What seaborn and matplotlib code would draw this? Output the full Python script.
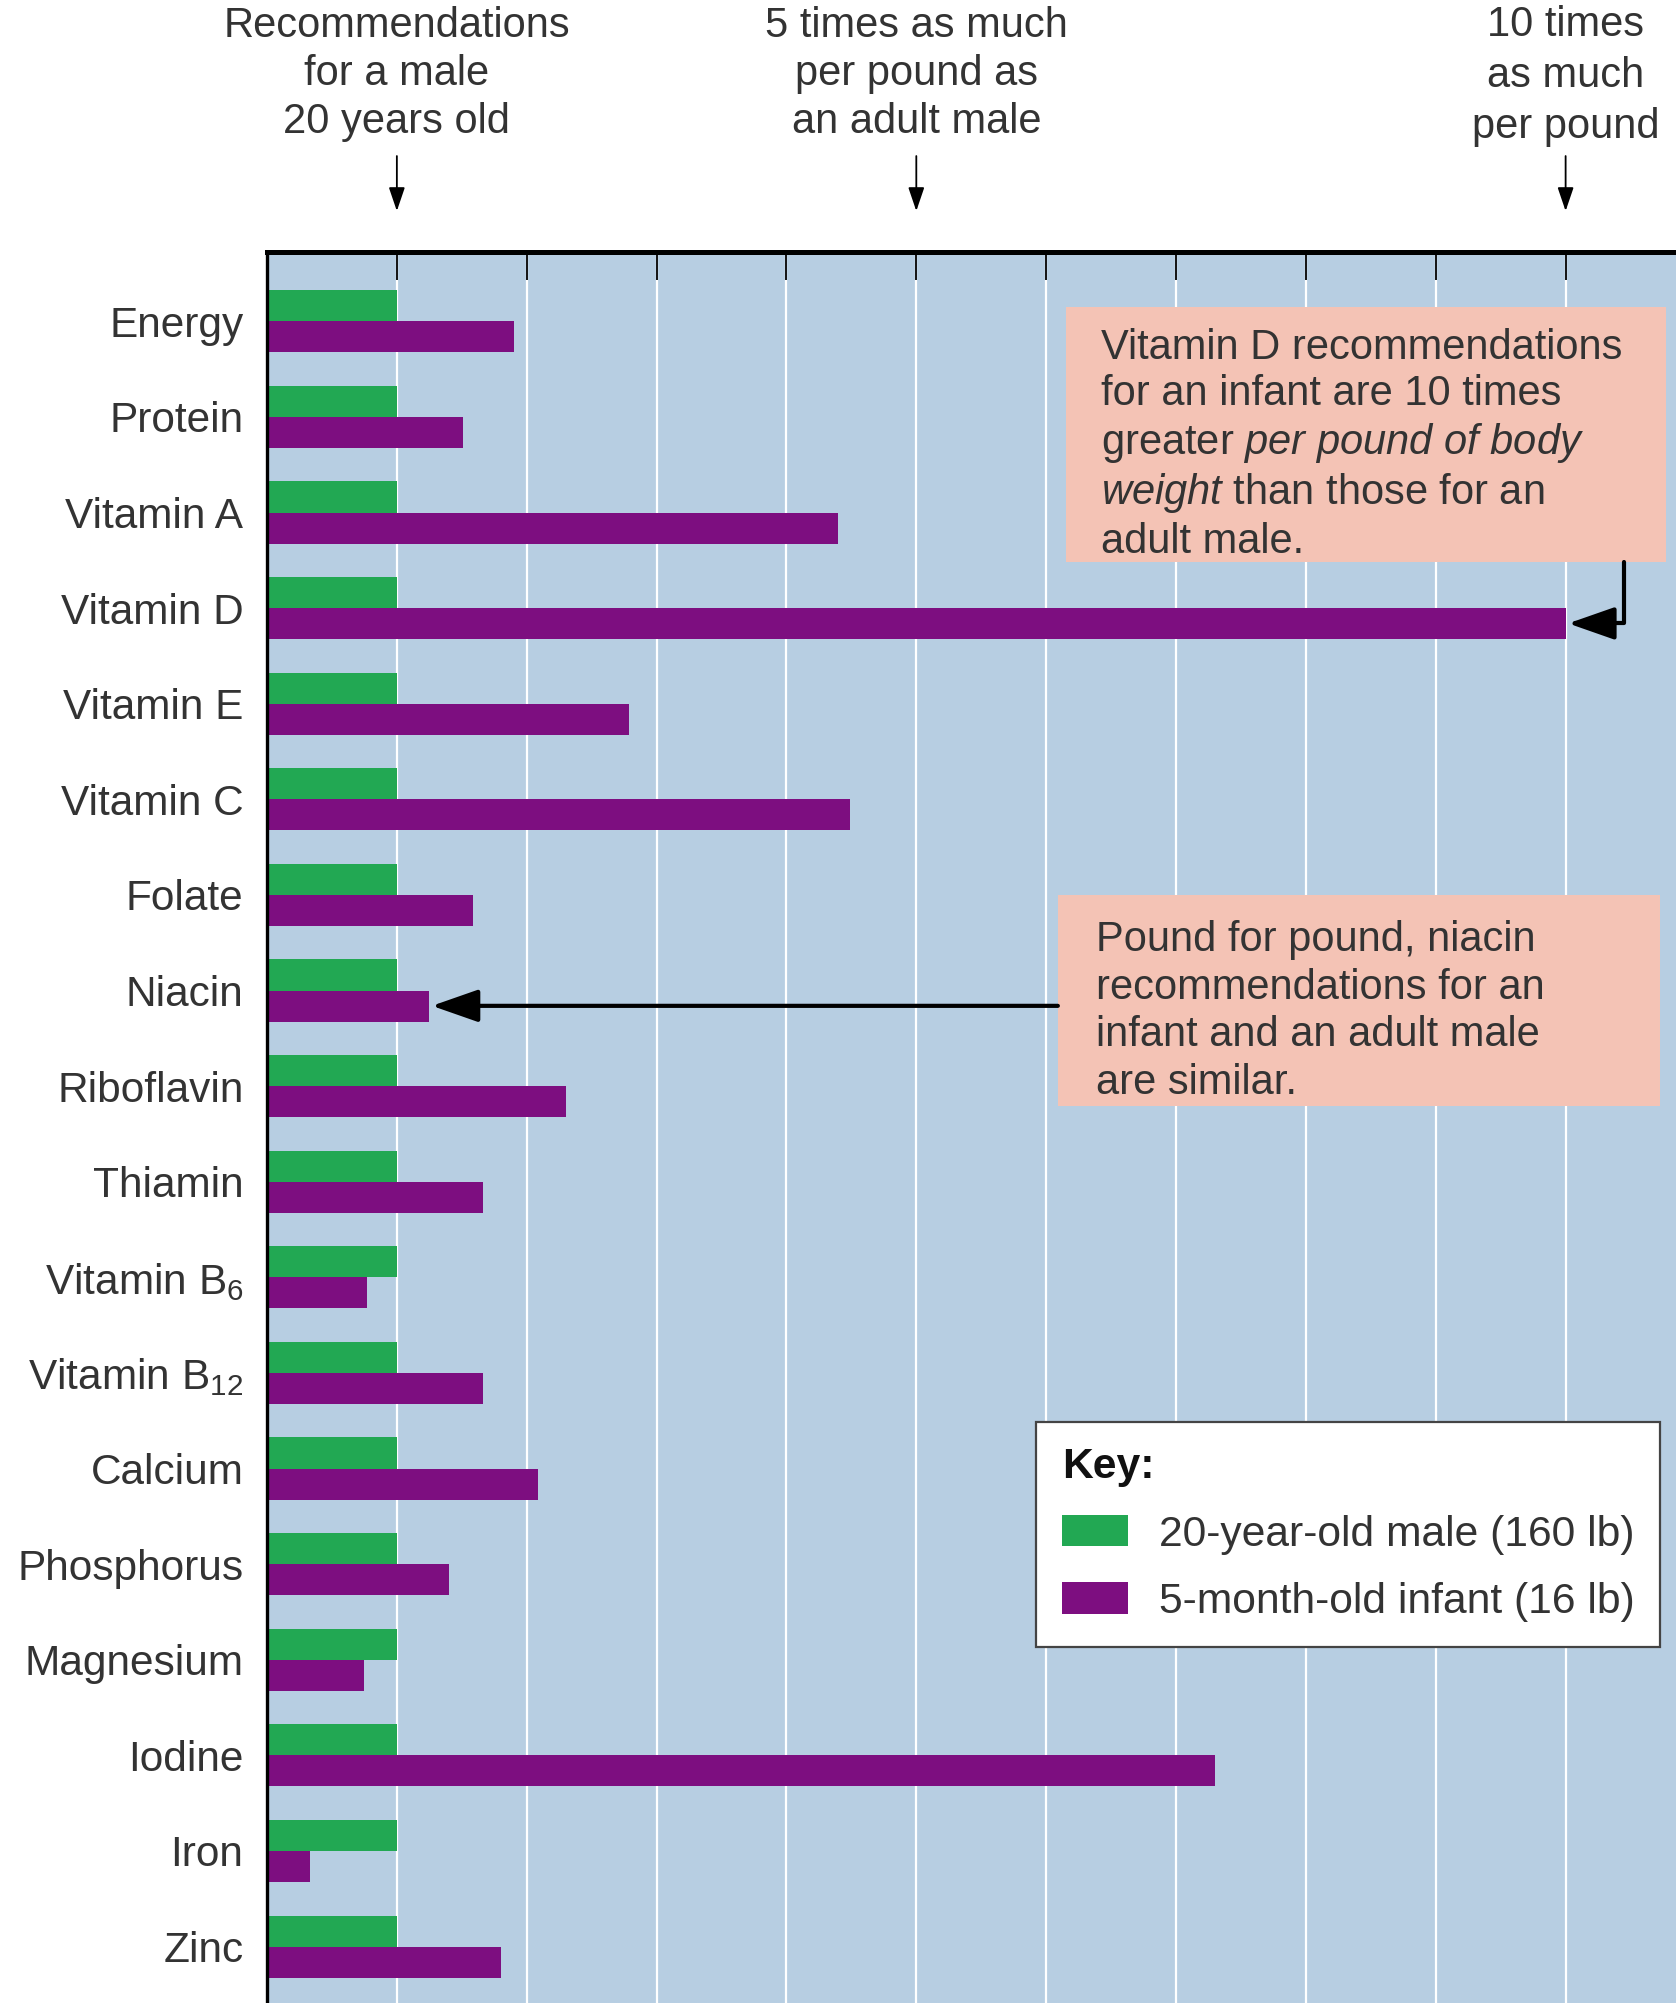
import matplotlib
matplotlib.use("Agg")
import matplotlib.pyplot as plt
from matplotlib.patches import Rectangle
import seaborn as sns
import pandas as pd

nutrients = ["Energy", "Protein", "Vitamin A", "Vitamin D", "Vitamin E", "Vitamin C",
             "Folate", "Niacin", "Riboflavin", "Thiamin", r"Vitamin $\mathrm{B}_{6}$",
             r"Vitamin $\mathrm{B}_{12}$", "Calcium", "Phosphorus", "Magnesium",
             "Iodine", "Iron", "Zinc"]
male_values = [1.0] * 18
infant_values = [1.90, 1.51, 4.40, 10.0, 2.79, 4.49, 1.59, 1.25, 2.30, 1.66,
                 0.77, 1.66, 2.09, 1.40, 0.75, 7.30, 0.33, 1.80]
group_labels = ["20-year-old male (160 lb)", "5-month-old infant (16 lb)"]
tick_positions = [0, 1, 2, 3, 4, 5, 6, 7, 8, 9, 10]

GREEN = "#22a853"
PURPLE = "#7d0e80"
BG = "#b7cee2"
BOX = "#f4c3b5"
TXT = "#333333"

sns.set_theme(style="white")
plt.rcParams["font.family"] = ["Liberation Sans", "DejaVu Sans"]
plt.rcParams["mathtext.fontset"] = "custom"
plt.rcParams["mathtext.rm"] = "Liberation Sans"
plt.rcParams["mathtext.it"] = "Liberation Sans:italic"
plt.rcParams["mathtext.bf"] = "Liberation Sans:bold"

df = pd.DataFrame({
    "Nutrient": nutrients * 2,
    "Value": male_values + infant_values,
    "Group": [group_labels[0]] * 18 + [group_labels[1]] * 18,
})

W, H = 1676, 2003
fig = plt.figure(figsize=(W / 100, H / 100), dpi=100)
ax = fig.add_axes([267 / W, 0, 1 - 267 / W, 1 - 252 / H])
ax.set_facecolor(BG)

sns.barplot(data=df, y="Nutrient", x="Value", hue="Group", hue_order=group_labels,
            palette=[GREEN, PURPLE], width=0.65, saturation=1, dodge=True,
            orient="h", ax=ax, legend=True, linewidth=0)

ax.set_xlim(0, 10.85)
ax.set_ylim(17.59, -0.725)
ax.set_xlabel("")
ax.set_ylabel("")

ax.set_xticks(tick_positions)
ax.xaxis.set_ticks_position("top")
ax.tick_params(axis="x", direction="in", length=20, width=1.3, color="black",
               labeltop=False, labelbottom=False, top=True, bottom=False)
ax.tick_params(axis="y", length=0, pad=17, labelsize=30.5, labelcolor=TXT)
ax.grid(axis="x", color="white", linewidth=1.6)
ax.grid(axis="y", visible=False)
ax.set_axisbelow(True)

for s in ["right", "bottom"]:
    ax.spines[s].set_visible(False)
ax.spines["top"].set_linewidth(3.6)
ax.spines["top"].set_color("black")
ax.spines["left"].set_linewidth(2.4)
ax.spines["left"].set_color("black")

# annotation boxes
ax.add_patch(Rectangle((6.15, -0.15), 10.77 - 6.15, 2.52 + 0.15, facecolor=BOX,
                       edgecolor="none", zorder=3))
ax.text(6.42, 0.07,
        "Vitamin D recommendations\nfor an infant are 10 times\n"
        r"greater $\mathit{per\ pound\ of\ body}$" "\n"
        r"$\mathit{weight}$ than those for an" "\nadult male.",
        fontsize=30, color=TXT, va="top", ha="left", linespacing=1.2, zorder=4)

ax.add_patch(Rectangle((6.09, 6.0), 10.73 - 6.09, 8.21 - 6.0, facecolor=BOX,
                       edgecolor="none", zorder=3))
ax.text(6.38, 6.26,
        "Pound for pound, niacin\nrecommendations for an\ninfant and an adult male\nare similar.",
        fontsize=30, color=TXT, va="top", ha="left", linespacing=1.25, zorder=4)

big_head = dict(arrowstyle="-|>,head_length=0.8,head_width=0.28", color="black",
                lw=3, mutation_scale=36, shrinkA=0, shrinkB=0)
ax.annotate("", xy=(1.27, 7.16), xytext=(6.09, 7.16), arrowprops=big_head, zorder=5)
ax.annotate("", xy=(10.02, 3.16), xytext=(10.45, 2.52),
            arrowprops=dict(big_head, connectionstyle="angle,angleA=90,angleB=0,rad=0"),
            zorder=5)

# top annotations
top_notes = [(1, "Recommendations\nfor a male\n20 years old", 1.26, 1.1017),
             (5, "5 times as much\nper pound as\nan adult male", 1.26, 1.1017),
             (10, "10 times\nas much\nper pound", 1.34, 1.1005)]
for xv, txt, ls, yv in top_notes:
    ax.text(xv, yv, txt, transform=ax.get_xaxis_transform(), ha="center", va="center",
            fontsize=30, color=TXT, linespacing=ls, clip_on=False)
    ax.annotate("", xy=(xv, 1.0234), xytext=(xv, 1.0548),
                xycoords=ax.get_xaxis_transform(), textcoords=ax.get_xaxis_transform(),
                arrowprops=dict(arrowstyle="-|>,head_length=0.5,head_width=0.17",
                                color="black", lw=1.3, mutation_scale=29,
                                shrinkA=0, shrinkB=0), annotation_clip=False)

# legend
handles, labels = ax.get_legend_handles_labels()
leg = ax.legend(handles, labels, title="Key:", loc="upper left",
                bbox_to_anchor=(0.546, 0.332), borderaxespad=0, frameon=True,
                fancybox=False, framealpha=1, facecolor="white", edgecolor="#444444",
                fontsize=30.7, title_fontproperties={"weight": "bold", "size": 30.7},
                alignment="left", handlelength=1.55, handleheight=0.75,
                handletextpad=0.72, labelspacing=0.64, borderpad=0.6)
leg.get_frame().set_linewidth(1.6)
for t in leg.get_texts():
    t.set_color(TXT)
leg.get_title().set_color("#111111")
leg.set_zorder(6)

fig.savefig("out.png", dpi=100)
